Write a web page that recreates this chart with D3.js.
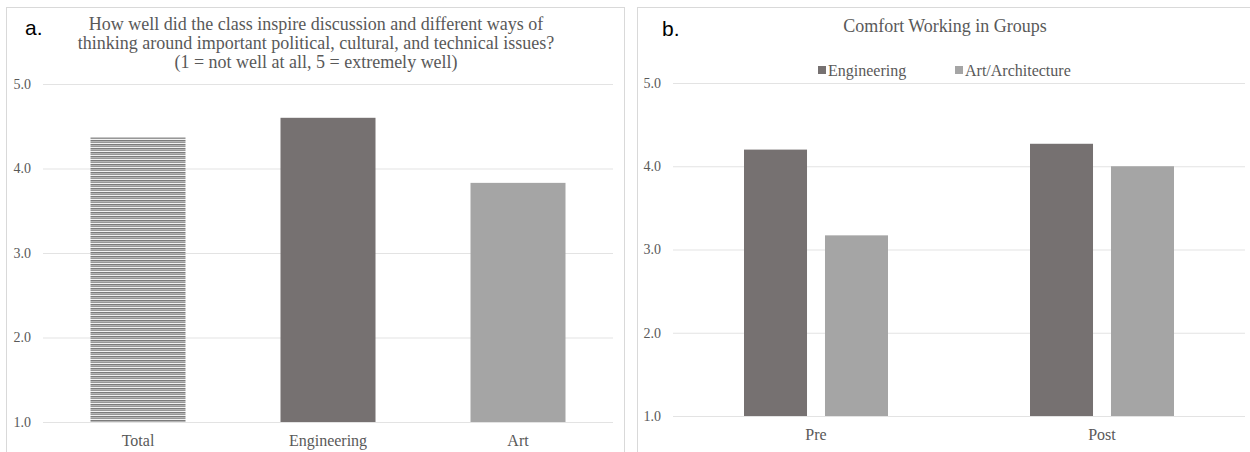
<!DOCTYPE html>
<html>
<head>
<meta charset="utf-8">
<script src="https://cdn.jsdelivr.net/npm/d3@7"></script>
<style>
  html, body { margin: 0; padding: 0; background: #fff; }
  svg { display: block; }
</style>
</head>
<body>
<svg id="chart" width="1250" height="452"></svg>
<script>
// ---------- data ----------
const leftTitleLines = [
  "How well did the class inspire discussion and different ways of",
  "thinking around important political, cultural, and technical issues?",
  "(1 = not well at all, 5 = extremely well)"
];
const leftCategories = ["Total", "Engineering", "Art"];
const leftValues = [4.37, 4.60, 3.83];

const rightTitle = "Comfort Working in Groups";
const rightCategories = ["Pre", "Post"];
const rightSeries = ["Engineering", "Art/Architecture"];
const engineeringValues = [4.20, 4.27];
const artValues = [3.17, 4.00];

const yTicks = [1.0, 2.0, 3.0, 4.0, 5.0];
const panelLabels = ["a.", "b."];

// ---------- styles ----------
const serif = "'Liberation Serif', 'Times New Roman', serif";
const sans = "'Liberation Sans', Arial, sans-serif";
const textGray = "#595959";
const gridGray = "#e3e3e3";
const borderGray = "#d9d9d9";
const engColor = "#767171";
const artColor = "#a5a5a5";

const svg = d3.select("#chart");

// hatch pattern for "Total"
const defs = svg.append("defs");
const pat = defs.append("pattern")
  .attr("id", "hatch").attr("patternUnits", "userSpaceOnUse")
  .attr("width", 8).attr("height", 4);
pat.append("rect").attr("width", 8).attr("height", 4).attr("fill", "#f2f2f2");
pat.append("rect").attr("y", 0).attr("width", 8).attr("height", 1).attr("fill", "#7c7c7c");
pat.append("rect").attr("y", 1).attr("width", 8).attr("height", 1).attr("fill", "#b4b4b4");
pat.append("rect").attr("y", 2).attr("width", 8).attr("height", 1).attr("fill", "#979797");

// panel borders
svg.append("rect").attr("x", 6.5).attr("y", 7.5).attr("width", 618).attr("height", 460)
  .attr("fill", "none").attr("stroke", borderGray);
svg.append("rect").attr("x", 637.5).attr("y", 7.5).attr("width", 630).attr("height", 460)
  .attr("fill", "none").attr("stroke", borderGray);

// ---------- left chart ----------
{
  const x = d3.scaleBand().domain(leftCategories).range([43, 613])
    .paddingInner(0.5).paddingOuter(0.25);
  const y = d3.scaleLinear().domain([1, 5]).range([422, 84]);

  const g = svg.append("g");
  const yAxis = d3.axisLeft(y).tickValues(yTicks).tickFormat(d3.format(".1f"))
    .tickSize(-(613 - 43)).tickPadding(12);
  const ya = g.append("g").attr("transform", "translate(43,0)").call(yAxis);
  ya.select(".domain").remove();
  ya.selectAll("line").attr("stroke", gridGray);
  ya.selectAll("text").attr("fill", textGray).style("font-family", serif).style("font-size", "14px");

  const colors = ["url(#hatch)", engColor, artColor];
  g.selectAll("rect.bar").data(leftValues).join("rect")
    .attr("class", "bar")
    .attr("x", (d, i) => x(leftCategories[i]))
    .attr("width", x.bandwidth())
    .attr("y", d => y(d))
    .attr("height", d => y(1) - y(d))
    .attr("fill", (d, i) => colors[i]);

  const xAxis = d3.axisBottom(x).tickSize(0).tickPadding(13);
  const xa = g.append("g").attr("transform", "translate(0,422)").call(xAxis);
  xa.select(".domain").remove();
  xa.selectAll("text").attr("fill", textGray).style("font-family", serif).style("font-size", "16px");

  g.selectAll("text.title").data(leftTitleLines).join("text")
    .attr("class", "title")
    .attr("x", 316).attr("y", (d, i) => 30 + i * 19)
    .attr("text-anchor", "middle")
    .attr("fill", textGray).style("font-family", serif).style("font-size", "18px")
    .text(d => d);

  g.append("text").attr("x", 25).attr("y", 35).text(panelLabels[0])
    .attr("fill", "#000").style("font-family", sans).style("font-size", "21px");
}

// ---------- right chart ----------
{
  const x0 = d3.scaleBand().domain(rightCategories).range([673, 1245]);
  const x1 = d3.scaleBand().domain(rightSeries)
    .range([x0.bandwidth() / 2 - 72, x0.bandwidth() / 2 + 72]).paddingInner(0.222);
  const y = d3.scaleLinear().domain([1, 5]).range([416, 83]);

  const g = svg.append("g");
  const yAxis = d3.axisLeft(y).tickValues(yTicks).tickFormat(d3.format(".1f"))
    .tickSize(-(1245 - 673)).tickPadding(12);
  const ya = g.append("g").attr("transform", "translate(673,0)").call(yAxis);
  ya.select(".domain").remove();
  ya.selectAll("line").attr("stroke", gridGray);
  ya.selectAll("text").attr("fill", textGray).style("font-family", serif).style("font-size", "14px");

  const seriesValues = [engineeringValues, artValues];
  const colors = [engColor, artColor];
  const rows = [];
  rightCategories.forEach((c, ci) => rightSeries.forEach((s, si) =>
    rows.push({ c, s, v: seriesValues[si][ci], color: colors[si] })));

  g.selectAll("rect.bar").data(rows).join("rect")
    .attr("class", "bar")
    .attr("x", d => x0(d.c) + x1(d.s))
    .attr("width", x1.bandwidth())
    .attr("y", d => y(d.v))
    .attr("height", d => y(1) - y(d.v))
    .attr("fill", d => d.color);

  const xAxis = d3.axisBottom(x0).tickSize(0).tickPadding(13);
  const xa = g.append("g").attr("transform", "translate(0,416)").call(xAxis);
  xa.select(".domain").remove();
  xa.selectAll("text").attr("fill", textGray).style("font-family", serif).style("font-size", "16px");

  g.append("text").attr("x", 945).attr("y", 32).attr("text-anchor", "middle")
    .attr("fill", textGray).style("font-family", serif).style("font-size", "18px")
    .text(rightTitle);

  // legend
  const legendX = [818, 955];
  const lg = g.selectAll("g.leg").data(rightSeries).join("g")
    .attr("class", "leg")
    .attr("transform", (d, i) => `translate(${legendX[i]},0)`);
  lg.append("rect").attr("x", 0).attr("y", 66).attr("width", 8).attr("height", 8)
    .attr("fill", (d, i) => colors[i]);
  lg.append("text").attr("x", 10).attr("y", 76).text(d => d)
    .attr("fill", textGray).style("font-family", serif).style("font-size", "16px");

  g.append("text").attr("x", 662).attr("y", 36).text(panelLabels[1])
    .attr("fill", "#000").style("font-family", sans).style("font-size", "21px");
}
</script>
</body>
</html>
